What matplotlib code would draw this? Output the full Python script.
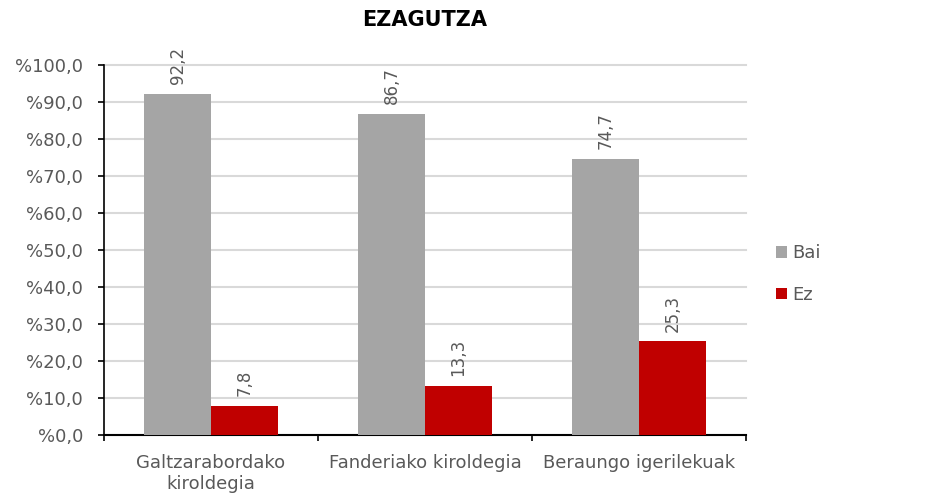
import numpy as np
import matplotlib.pyplot as plt

categories = ['Galtzarabordako\nkiroldegia', 'Fanderiako kiroldegia', 'Beraungo igerilekuak']
bai = [92.2, 86.7, 74.7]
ez = [7.8, 13.3, 25.3]
yticks = [0, 10, 20, 30, 40, 50, 60, 70, 80, 90, 100]

plt.rcParams['font.family'] = ['DejaVu Sans']
txt = '#595959'

fig = plt.figure(figsize=(9.35, 4.95), dpi=100)
ax = fig.add_axes([104/935, 1-435/495, (746-104)/935, (435-65)/495])

x = np.arange(len(categories))
w = 0.313
b1 = ax.bar(x - w/2, bai, w, color='#a5a5a5', label='Bai', zorder=3)
b2 = ax.bar(x + w/2, ez, w, color='#c00000', label='Ez', zorder=3)

for bars, vals in ((b1, bai), (b2, ez)):
    for r, v in zip(bars, vals):
        ax.annotate(('%.1f' % v).replace('.', ','),
                    (r.get_x() + r.get_width()/2, r.get_height()),
                    xytext=(0, 7), textcoords='offset points',
                    rotation=90, ha='center', va='bottom',
                    fontsize=12, color=txt)

ax.set_xlim(-0.5, 2.5)
ax.set_ylim(0, 100)
ax.set_yticks(yticks)
ax.set_yticklabels([('%%%.1f' % t).replace('.', ',') for t in yticks])
ax.yaxis.grid(True, color='#d9d9d9', linewidth=1.5, zorder=0)
for gl in ax.get_ygridlines():
    gl.set_clip_on(False)
ax.set_axisbelow(True)

ax.set_xticks(x)
ax.set_xticklabels(categories)
ax.tick_params(axis='x', length=0, pad=14, labelsize=13, labelcolor=txt)
ax.set_xticks([-0.5, 0.5, 1.5, 2.5], minor=True)
ax.tick_params(axis='x', which='minor', length=4.5, width=1.2, color='black')
ax.tick_params(axis='y', length=4, width=1.2, labelsize=13, labelcolor=txt, pad=11)

for s in ['top', 'right']:
    ax.spines[s].set_visible(False)
ax.spines['left'].set_linewidth(1.2)
ax.spines['bottom'].set_linewidth(1.5)

ax.set_title('EZAGUTZA', fontsize=15, fontweight='bold', pad=28)

leg = fig.legend(handles=[b1, b2], loc='center left', bbox_to_anchor=(760/935, 1-274/495),
                 frameon=False, fontsize=13, handlelength=0.6, handleheight=0.6,
                 handletextpad=0.3, labelspacing=1.3)
for t in leg.get_texts():
    t.set_color(txt)

fig.savefig('out.png')
